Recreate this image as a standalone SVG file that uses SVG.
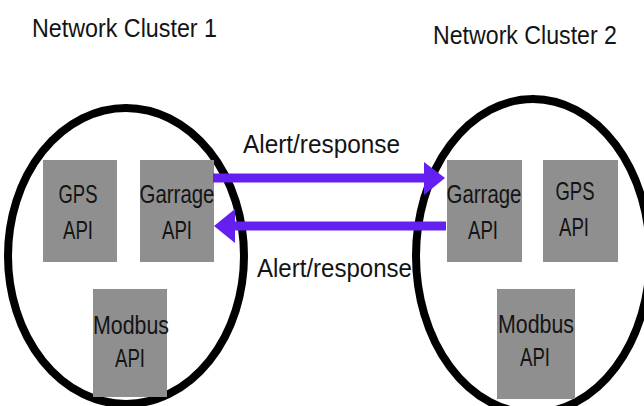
<svg xmlns="http://www.w3.org/2000/svg" width="644" height="406" viewBox="0 0 644 406">
<style>
.cluster{fill:none;stroke:#000;stroke-width:8}
.box{fill:#8f8f8f}
.t{font-family:"Liberation Sans",Arial,sans-serif;fill:#141414}
.title{font-size:26px}
.lbl{font-size:26px;text-anchor:middle}
.edge{font-size:26px}
.shaft{stroke:#6420f0;stroke-width:9;fill:none}
.head{fill:#6420f0}
</style>
<rect width="644" height="406" fill="#fff"/>
<g id="cluster1">
<ellipse class="cluster" cx="126" cy="256" rx="118" ry="148"/>
<text class="t title" x="32" y="37" textLength="185" lengthAdjust="spacingAndGlyphs">Network Cluster 1</text>
</g>
<g id="cluster2">
<ellipse class="cluster" cx="533" cy="256" rx="117" ry="157"/>
<text class="t title" x="433" y="44" textLength="184" lengthAdjust="spacingAndGlyphs">Network Cluster 2</text>
</g>
<g id="gps1">
<rect class="box" x="43" y="160" width="74" height="102"/>
<text class="t lbl" x="78" y="203" textLength="39" lengthAdjust="spacingAndGlyphs">GPS</text>
<text class="t lbl" x="78" y="239" textLength="30" lengthAdjust="spacingAndGlyphs">API</text>
</g>
<g id="garrage1">
<rect class="box" x="140" y="160" width="74" height="102"/>
<text class="t lbl" x="177" y="203" textLength="75" lengthAdjust="spacingAndGlyphs">Garrage</text>
<text class="t lbl" x="177" y="239" textLength="30" lengthAdjust="spacingAndGlyphs">API</text>
</g>
<g id="modbus1">
<rect class="box" x="93" y="289" width="74" height="108"/>
<text class="t lbl" x="131" y="334" textLength="76" lengthAdjust="spacingAndGlyphs">Modbus</text>
<text class="t lbl" x="130" y="367" textLength="30" lengthAdjust="spacingAndGlyphs">API</text>
</g>
<g id="garrage2">
<rect class="box" x="447" y="160" width="75" height="102"/>
<text class="t lbl" x="484" y="203" textLength="75" lengthAdjust="spacingAndGlyphs">Garrage</text>
<text class="t lbl" x="483" y="239" textLength="30" lengthAdjust="spacingAndGlyphs">API</text>
</g>
<g id="gps2">
<rect class="box" x="543" y="160" width="75" height="102"/>
<text class="t lbl" x="575" y="200" textLength="39" lengthAdjust="spacingAndGlyphs">GPS</text>
<text class="t lbl" x="574" y="236" textLength="30" lengthAdjust="spacingAndGlyphs">API</text>
</g>
<g id="modbus2">
<rect class="box" x="497" y="289" width="78" height="110"/>
<text class="t lbl" x="536" y="333" textLength="76" lengthAdjust="spacingAndGlyphs">Modbus</text>
<text class="t lbl" x="535" y="366" textLength="30" lengthAdjust="spacingAndGlyphs">API</text>
</g>
<g id="connectors">
<line class="shaft" x1="213" y1="178" x2="426" y2="178"/>
<polygon class="head" points="424,162 445,178 424,195"/>
<text class="t edge" x="243" y="153" textLength="157" lengthAdjust="spacingAndGlyphs">Alert/response</text>
<line class="shaft" x1="446" y1="226" x2="232" y2="226"/>
<polygon class="head" points="235,209 214,226 235,243"/>
<text class="t edge" x="257" y="277" textLength="155" lengthAdjust="spacingAndGlyphs">Alert/response</text>
</g>
</svg>
